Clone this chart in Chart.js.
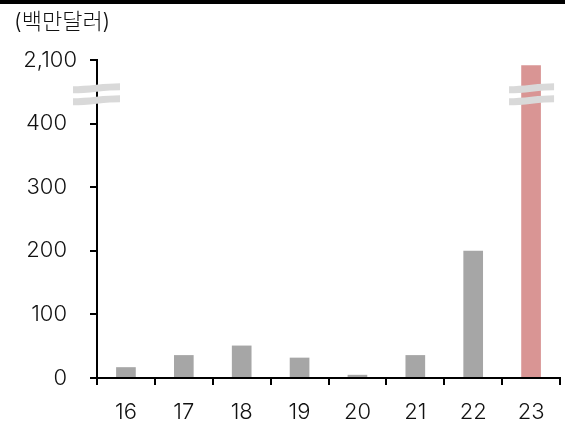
<!DOCTYPE html>
<html><head><meta charset="utf-8">
<script src="https://cdn.jsdelivr.net/npm/chart.js@4"></script>
<style>html,body{margin:0;padding:0;background:#fff;}#wrap{width:565px;height:427px;position:relative;}</style>
</head><body><div id="wrap"><canvas id="c" width="565" height="427"></canvas></div>
<script>
const categories = ['16','17','18','19','20','21','22','23'];
const values = [17, 36, 51, 32, 5, 36, 200, 1960]; // 백만달러
const barColors = ['#a6a6a6','#a6a6a6','#a6a6a6','#a6a6a6','#a6a6a6','#a6a6a6','#a6a6a6','#d99594'];
const tickValues = [0, 100, 200, 300, 400, 2100];
const unitLabel = '(백만달러)';

// broken axis: 0-400 linear, 400-2100 compressed into one step
const BREAK_LO = 400, BREAK_HI = 2100;
function toDisplay(v){ return v <= BREAK_LO ? v : BREAK_LO + (v - BREAK_LO) / (BREAK_HI - BREAK_LO) * 100; }
const FONT = "Inter, 'Noto Sans CJK KR', sans-serif";

const decor = {
  id: 'decor',
  afterDraw(chart){
    const ctx = chart.ctx, y = chart.scales.y;
    ctx.save();
    // top black rule
    ctx.fillStyle = '#000';
    ctx.fillRect(0, 0, 565, 4);
    // unit label
    ctx.fillStyle = '#111';
    ctx.font = '300 22px ' + FONT;
    ctx.textBaseline = 'middle';
    ctx.textAlign = 'left';
    ctx.fillText(unitLabel, 14, 22);
    // y tick labels (through the scale)
    ctx.font = '300 22px ' + FONT;
    ctx.textAlign = 'right';
    tickValues.forEach(v => {
      const py = y.getPixelForValue(toDisplay(v));
      const px = v > BREAK_LO ? 77 : 67;
      ctx.fillText(v.toLocaleString('en-US'), px, py);
    });
    // break marks
    const yb = y.getPixelForValue(446);
    function strips(x0, x1){
      ctx.strokeStyle = '#d9d9d9';
      ctx.lineWidth = 7;
      ctx.lineCap = 'butt';
      [-6, 6].forEach(off => {
        const yy = yb + off;
        ctx.beginPath();
        ctx.moveTo(x0, yy + 1.5);
        ctx.bezierCurveTo(x0 + (x1-x0)*0.4, yy + 1.5, x0 + (x1-x0)*0.6, yy - 1.5, x1, yy - 1.5);
        ctx.stroke();
      });
    }
    strips(y.right - 24, y.right + 23);
    const meta = chart.getDatasetMeta(0);
    const last = meta.data[meta.data.length - 1];
    strips(last.x - 22, last.x + 23);
    ctx.restore();
  }
};

new Chart(document.getElementById('c'), {
  type: 'bar',
  data: {
    labels: categories,
    datasets: [{
      data: values.map(toDisplay),
      backgroundColor: barColors,
      borderWidth: 0,
      barPercentage: 0.34,
      categoryPercentage: 1.0
    }]
  },
  options: {
    responsive: false,
    animation: false,
    devicePixelRatio: 1,
    layout: { padding: { top: 60, right: 5, left: 0, bottom: 0 } },
    plugins: { legend: { display: false }, tooltip: { enabled: false }, title: { display: false } },
    scales: {
      x: {
        offset: true,
        grid: { offset: true, drawOnChartArea: false, drawTicks: true, tickLength: 7, color: '#000', lineWidth: 2 },
        border: { display: true, color: '#000', width: 2 },
        ticks: { color: '#111', font: { family: FONT, size: 22, weight: '300' }, padding: 14, maxRotation: 0 },
        afterFit(s){ s.height = 49; }
      },
      y: {
        min: 0, max: 500,
        afterBuildTicks(s){ s.ticks = [0,100,200,300,400,500].map(v => ({ value: v })); },
        grid: { drawOnChartArea: false, drawTicks: true, tickLength: 7, color: '#000', lineWidth: 2 },
        border: { display: true, color: '#000', width: 2 },
        ticks: { display: false },
        afterFit(s){ s.width = 97; }
      }
    }
  },
  plugins: [decor]
});
</script></body></html>
